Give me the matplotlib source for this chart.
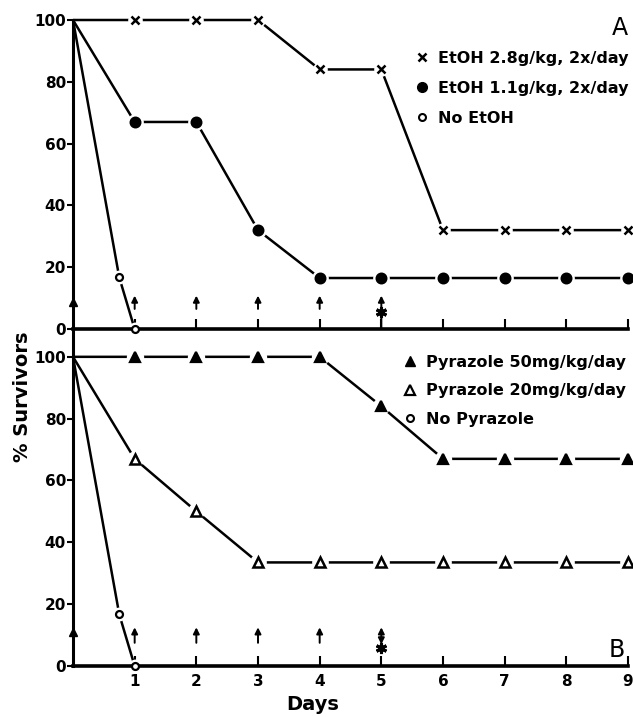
import matplotlib
matplotlib.use("Agg")
import matplotlib.pyplot as plt
from matplotlib.lines import Line2D

plt.rcParams['font.family'] = ['DejaVu Sans']

# ---------------- data ----------------
days = [0, 1, 2, 3, 4, 5, 6, 7, 8, 9]
etoh_28 = [100, 100, 100, 100, 84, 84, 32, 32, 32, 32]
etoh_11 = [100, 67, 67, 32, 16.5, 16.5, 16.5, 16.5, 16.5, 16.5]
no_etoh_days = [0, 0.75, 1]
no_etoh = [100, 16.7, 0]

pyr_50 = [100, 100, 100, 100, 100, 84, 67, 67, 67, 67]
pyr_20 = [100, 67, 50, 33.5, 33.5, 33.5, 33.5, 33.5, 33.5, 33.5]
no_pyr_days = [0, 0.75, 1]
no_pyr = [100, 16.7, 0]

labels_A = ["EtOH 2.8g/kg, 2x/day", "EtOH 1.1g/kg, 2x/day", "No EtOH"]
labels_B = ["Pyrazole 50mg/kg/day", "Pyrazole 20mg/kg/day", "No Pyrazole"]

dose_days = [1, 2, 3, 4]
special_day = [5]
yticks = [0, 20, 40, 60, 80, 100]
xticks = [1, 2, 3, 4, 5, 6, 7, 8, 9]

# ---------------- figure ----------------
W, H = 633, 717
fig = plt.figure(figsize=(W / 100, H / 100), dpi=100)
x0, x1 = 73, 628
axA = fig.add_axes([x0 / W, 1 - 329 / H, (x1 - x0) / W, 309 / H])
axB = fig.add_axes([x0 / W, 1 - 666 / H, (x1 - x0) / W, 337 / H])

tickfont = dict(fontsize=11, fontweight='bold')
legprop = dict(size=11.5, weight='bold')


def draw_series(ax, x, y, marker, ms, filled, mew=1.6):
    ax.plot(x, y, color='black', lw=1.8, zorder=2, clip_on=False,
            solid_capstyle='butt')
    # white halo so the lines stop short of the symbols
    ax.plot(x, y, ls='none', marker='o', ms=ms + 4, mfc='white', mec='white',
            markevery=slice(1, None), zorder=2.1, clip_on=False)
    ax.plot(x, y, ls='none', marker=marker, ms=ms,
            mfc='black' if filled else 'white', mec='black', mew=mew,
            markevery=slice(1, None), zorder=3, clip_on=False)


def style(ax, ymax):
    ax.set_xlim(0, 9)
    ax.set_ylim(0, ymax)
    for s in ('top', 'right'):
        ax.spines[s].set_visible(False)
    ax.spines['left'].set_linewidth(2.2)
    ax.spines['bottom'].set_linewidth(2.6)
    ax.set_yticks(yticks)
    ax.set_yticklabels([str(v) for v in yticks], **tickfont)
    ax.tick_params(axis='y', direction='out', length=4, width=1.5, pad=1)
    ax.set_xticks(xticks)
    ax.tick_params(axis='x', direction='in', length=7, width=1.5, pad=6)
    ax.set_facecolor('none')


def arrows(ax, lo, hi, special_lo, special_hi, star_y, double):
    for d in dose_days:
        ax.annotate('', xy=(d, hi), xytext=(d, lo),
                    arrowprops=dict(arrowstyle='-|>', color='black', lw=1.4,
                                    mutation_scale=9, shrinkA=0, shrinkB=0))
    for d in special_day:
        ax.annotate('', xy=(d, special_hi), xytext=(d, special_lo),
                    arrowprops=dict(arrowstyle='<|-|>' if double else '-|>',
                                    color='black', lw=1.4,
                                    mutation_scale=9, shrinkA=0, shrinkB=0))
        ax.plot([d], [star_y], marker=(6, 2, 0), ms=8, mew=2.2, color='black',
                zorder=4)


# ---- panel A ----
style(axA, 100)
axA.set_xticklabels([])
draw_series(axA, days, etoh_28, 'x', 5.5, True, mew=1.8)
draw_series(axA, days, etoh_11, 'o', 7, True)
draw_series(axA, no_etoh_days, no_etoh, 'o', 5, False, mew=1.6)
arrows(axA, 6.5, 10.8, 0, 10.8, 5.5, False)
axA.plot([0], [8.7], marker='^', ms=6, color='black', clip_on=False, zorder=4)
axA.text(8.87, 97.4, 'A', fontsize=17, ha='center', va='center')

hA = [Line2D([], [], ls='none', marker='x', ms=5.5, mew=1.8, color='black'),
      Line2D([], [], ls='none', marker='o', ms=7, color='black'),
      Line2D([], [], ls='none', marker='o', ms=5, mfc='white', mec='black', mew=1.5)]
axA.legend(hA, labels_A, loc='upper left', bbox_to_anchor=(0.618, 0.9),
           frameon=False, handlelength=0.8, handletextpad=0.6,
           labelspacing=0.93, borderpad=0, borderaxespad=0, prop=legprop)

# ---- panel B ----
style(axB, 109)
axB.set_xticklabels([str(v) for v in xticks], **tickfont)
draw_series(axB, days, pyr_50, '^', 7.5, True)
draw_series(axB, days, pyr_20, '^', 7, False, mew=1.8)
draw_series(axB, no_pyr_days, no_pyr, 'o', 5, False, mew=1.6)
arrows(axB, 7.5, 12.5, 7.0, 12.5, 5.8, True)
axB.plot([0], [11], marker='^', ms=6, color='black', clip_on=False, zorder=4)
axB.text(8.82, 5.2, 'B', fontsize=17, ha='center', va='center')

hB = [Line2D([], [], ls='none', marker='^', ms=7, color='black'),
      Line2D([], [], ls='none', marker='^', ms=6.5, mfc='white', mec='black', mew=1.6),
      Line2D([], [], ls='none', marker='o', ms=5, mfc='white', mec='black', mew=1.5)]
axB.legend(hB, labels_B, loc='upper left', bbox_to_anchor=(0.595, 0.924),
           frameon=False, handlelength=0.8, handletextpad=0.6,
           labelspacing=0.85, borderpad=0, borderaxespad=0, prop=legprop)

axB.set_xlabel('Days', fontsize=14, fontweight='bold')
axB.xaxis.set_label_coords((313 - x0) / (x1 - x0), -0.085)
fig.text(23 / W, 1 - 397 / H, '% Survivors', rotation=90, fontsize=14,
         fontweight='bold', ha='center', va='center')

fig.savefig('out.png', dpi=100, facecolor='white')
